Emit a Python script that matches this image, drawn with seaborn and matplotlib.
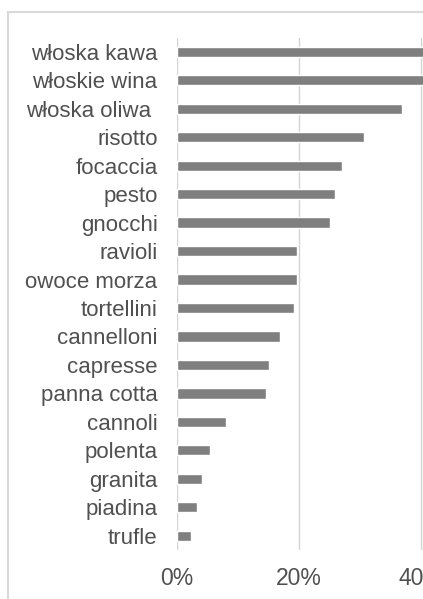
import matplotlib
matplotlib.use("Agg")
import matplotlib.pyplot as plt
import seaborn as sns
import pandas as pd
from matplotlib.patches import Rectangle
from matplotlib.ticker import FuncFormatter

categories = ["włoska kawa", "włoskie wina", "włoska oliwa ", "risotto", "focaccia",
              "pesto", "gnocchi", "ravioli", "owoce morza", "tortellini",
              "cannelloni", "capresse", "panna cotta", "cannoli", "polenta",
              "granita", "piadina", "trufle"]
values = [44.0, 42.5, 36.9, 30.7, 27.1, 25.9, 25.0, 19.6, 19.6, 19.1,
          16.9, 15.1, 14.6, 8.0, 5.4, 4.1, 3.2, 2.3]
xticks = [0, 20, 40]

df = pd.DataFrame({"cat": categories, "val": values})

sns.set_theme(style="white")
plt.rcParams["font.family"] = ["Liberation Sans", "DejaVu Sans"]

fig = plt.figure(figsize=(4.23, 5.99), dpi=100)
ax = fig.add_axes([177/423, 1-550/599, 246/423, (550-37.5)/599])

sns.barplot(data=df, x="val", y="cat", orient="h", color="#7f7f7f",
            saturation=1, width=0.36, ax=ax, zorder=3)

ax.set_xlim(0, 246/122*20)
ax.set_ylim(17.5, -0.5)
ax.set_xticks(xticks)
ax.xaxis.set_major_formatter(FuncFormatter(lambda v, p: f"{v:.0f}%"))
ax.grid(axis="x", color="#d4d4d4", linewidth=1.0, zorder=0)
ax.grid(axis="y", visible=False)
for s in ax.spines.values():
    s.set_visible(False)
ax.set_xlabel("")
ax.set_ylabel("")
ax.tick_params(axis="y", length=0, pad=14, labelsize=16, labelcolor="#505050")
ax.tick_params(axis="x", length=0, pad=12, labelsize=16.5, labelcolor="#505050")

fig.patches.append(Rectangle((7.5/423, -0.1), 1.2, 1-12/599+0.1, transform=fig.transFigure,
                             fill=False, edgecolor="#d9d9d9", linewidth=1.5))

fig.savefig("out.png", dpi=100)
